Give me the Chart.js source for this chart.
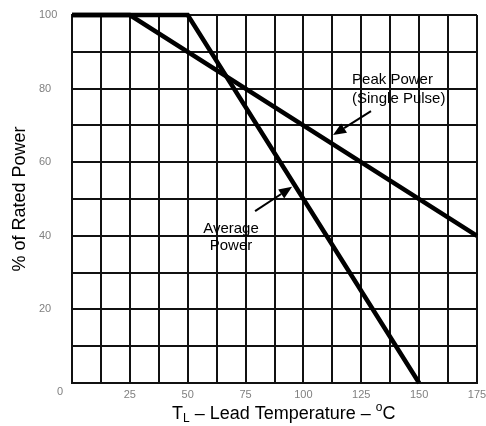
<!DOCTYPE html>
<html>
<head>
<meta charset="utf-8">
<script src="https://cdn.jsdelivr.net/npm/chart.js@4.4.0/dist/chart.umd.min.js"></script>
<style>
  html, body { margin: 0; padding: 0; background: #fff; }
</style>
</head>
<body>
<canvas id="derate" width="486" height="426"></canvas>
<script>
// derating curves: lead temperature (deg C) vs % of rated power
let avgTemp = [0, 50, 150];
let avgPower = [100, 100, 0];
let peakTemp = [0, 25, 175];
let peakPower = [100, 100, 40];

// labelled ticks (grid is every 12.5 C and every 10 %)
let xLabels = [25, 50, 75, 100, 125, 150, 175];
let yLabels = [20, 40, 60, 80, 100];

const font = "'Liberation Sans', Arial, sans-serif";

function pts(xs, ys) {
    return xs.map((v, i) => ({x: v, y: ys[i]}));
}

function arrow(ctx, x1, y1, x2, y2) {
    let ang = Math.atan2(y2 - y1, x2 - x1);
    let len = 13, half = 5.5;
    let bx = x2 - len * Math.cos(ang), by = y2 - len * Math.sin(ang);
    ctx.beginPath();
    ctx.moveTo(x1, y1);
    ctx.lineTo(bx, by);
    ctx.lineWidth = 2;
    ctx.stroke();
    ctx.beginPath();
    ctx.moveTo(x2, y2);
    ctx.lineTo(bx + half * Math.sin(ang), by - half * Math.cos(ang));
    ctx.lineTo(bx - half * Math.sin(ang), by + half * Math.cos(ang));
    ctx.closePath();
    ctx.fill();
}

// text labels, arrows and the x title (has sub/superscript)
const notes = {
    id: 'notes',
    afterDraw(chart) {
        const {ctx} = chart;
        const x = chart.scales.x, y = chart.scales.y;
        ctx.save();
        ctx.fillStyle = '#000';
        ctx.strokeStyle = '#000';

        ctx.font = '15px ' + font;
        ctx.textBaseline = 'middle';
        ctx.textAlign = 'left';
        ctx.fillText('Peak Power', x.getPixelForValue(121), y.getPixelForValue(82.3));
        ctx.fillText('(Single Pulse)', x.getPixelForValue(121), y.getPixelForValue(77.2));
        ctx.textAlign = 'center';
        ctx.fillText('Average', x.getPixelForValue(68.7), y.getPixelForValue(41.8));
        ctx.fillText('Power', x.getPixelForValue(68.7), y.getPixelForValue(37.2));

        arrow(ctx, x.getPixelForValue(129.2), y.getPixelForValue(73.9),
                   x.getPixelForValue(112.8), y.getPixelForValue(67.4));
        arrow(ctx, x.getPixelForValue(79.1), y.getPixelForValue(46.7),
                   x.getPixelForValue(95.1), y.getPixelForValue(53.3));

        // shared zero in the corner
        ctx.fillStyle = '#808080';
        ctx.font = '11px ' + font;
        ctx.textAlign = 'center';
        ctx.fillText('0', x.left - 12, x.bottom - 34);

        // x axis title
        ctx.fillStyle = '#000';
        ctx.textAlign = 'left';
        ctx.textBaseline = 'alphabetic';
        let px = x.left + 100, base = 419;
        ctx.font = '18px ' + font;
        ctx.fillText('T', px, base);
        px += ctx.measureText('T').width;
        ctx.font = '12px ' + font;
        ctx.fillText('L', px, base + 3);
        px += ctx.measureText('L').width;
        ctx.font = '18px ' + font;
        let mid = ' \u2013 Lead Temperature \u2013 ';
        ctx.fillText(mid, px, base);
        px += ctx.measureText(mid).width;
        ctx.font = '12px ' + font;
        ctx.fillText('o', px, base - 8);
        px += ctx.measureText('o').width;
        ctx.font = '18px ' + font;
        ctx.fillText('C', px, base);
        ctx.restore();
    }
};

new Chart(document.getElementById('derate'), {
    type: 'line',
    data: {
        datasets: [
            {
                label: 'Average Power',
                data: pts(avgTemp, avgPower),
                borderColor: '#000',
                borderWidth: 4.5,
                pointRadius: 0,
                tension: 0,
                clip: 6
            },
            {
                label: 'Peak Power (Single Pulse)',
                data: pts(peakTemp, peakPower),
                borderColor: '#000',
                borderWidth: 4.5,
                pointRadius: 0,
                tension: 0,
                clip: 6
            }
        ]
    },
    options: {
        responsive: false,
        animation: false,
        layout: {padding: {left: 39, right: 9, top: 15, bottom: 0}},
        plugins: {legend: {display: false}, tooltip: {enabled: false}},
        scales: {
            x: {
                type: 'linear',
                min: 0,
                max: 175,
                afterFit: (s) => { s.height = 43; s.paddingLeft = 0; s.paddingRight = 0; },
                grid: {color: '#111', lineWidth: 2, drawTicks: false},
                border: {color: '#111', width: 2},
                ticks: {
                    stepSize: 12.5,
                    maxTicksLimit: 20,
                    autoSkip: false,
                    maxRotation: 0,
                    padding: 5,
                    color: '#808080',
                    font: {family: font, size: 11},
                    callback: (v) => xLabels.includes(v) ? v : ''
                }
            },
            y: {
                min: 0,
                max: 100,
                afterFit: (s) => { s.width = 33; },
                grid: {color: '#111', lineWidth: 2, drawTicks: false},
                border: {color: '#111', width: 2},
                ticks: {
                    stepSize: 10,
                    maxTicksLimit: 20,
                    crossAlign: 'far',
                    color: '#808080',
                    font: {family: font, size: 11},
                    callback: (v) => yLabels.includes(v) ? v : ''
                },
                title: {
                    display: true,
                    text: '% of Rated Power',
                    color: '#000',
                    font: {family: font, size: 18},
                    padding: {top: -30, bottom: 0}
                }
            }
        }
    },
    plugins: [notes]
});
</script>
</body>
</html>
